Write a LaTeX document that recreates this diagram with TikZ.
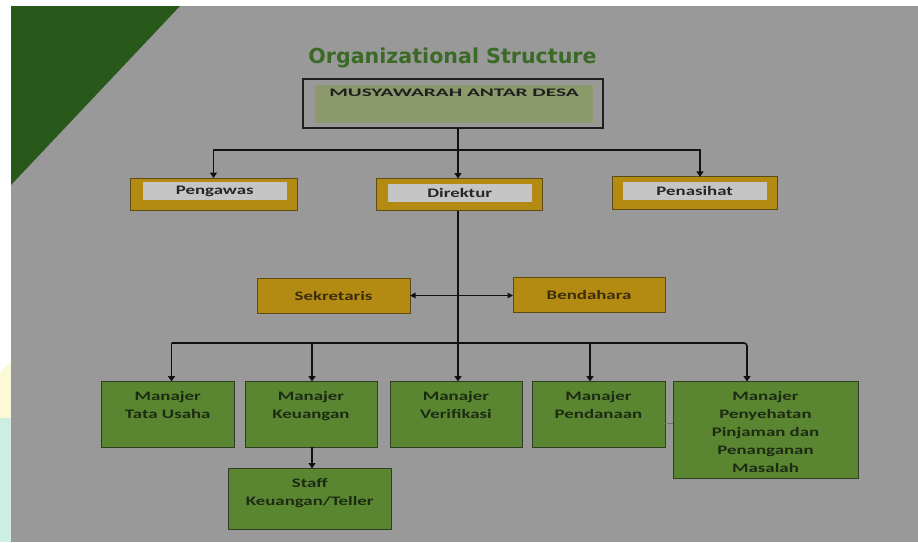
\documentclass[tikz,border=0pt]{standalone}
\usepackage{fontspec}
\usetikzlibrary{arrows.meta,positioning}
\newfontfamily\ttlfont{DejaVu Sans}
\newfontfamily\bxfont[FakeStretch=1.45]{Carlito}
\newfontfamily\musfont[FakeStretch=1.85]{Carlito}
\definecolor{bggray}{HTML}{999999}
\definecolor{tri}{HTML}{28581A}
\definecolor{ttlgreen}{HTML}{3B6A26}
\definecolor{goldfill}{HTML}{B38A12}
\definecolor{golddark}{HTML}{5E4A14}
\definecolor{innergray}{HTML}{C5C5C5}
\definecolor{goldtext}{HTML}{3A2D0A}
\definecolor{greenfill}{HTML}{5A8632}
\definecolor{greenborder}{HTML}{2F3D22}
\definecolor{greentext}{HTML}{1D2B12}
\definecolor{musinner}{HTML}{8C996A}
\definecolor{linec}{HTML}{111111}
\definecolor{wmyellow}{HTML}{FCF9D6}
\definecolor{wmcyan}{HTML}{CDEEE2}
\tikzset{
  gbox/.style={draw=golddark, fill=goldfill, line width=0.9pt, inner sep=0pt, outer sep=0pt},
  ginner/.style={fill=innergray, inner sep=0pt, outer sep=0pt, text=black!85,
    font=\bxfont\bfseries\fontsize{13}{16}\selectfont},
  sbox/.style={gbox, text=goldtext, font=\bxfont\bfseries\fontsize{13}{16}\selectfont},
  mbox/.style={draw=greenborder, fill=greenfill, line width=0.9pt, inner sep=0pt, outer sep=0pt},
  mlabel/.style={font=\bxfont\bfseries\fontsize{13}{18}\selectfont, text=greentext,
    align=center, inner sep=0pt},
  conn/.style={draw=linec, line width=1.6pt},
  arr/.style={conn, -{Triangle[width=7pt,length=5.5pt]}},
}
\begin{document}
\begin{tikzpicture}[x=1pt,y=-1pt]
% background
\useasboundingbox (0,0) rectangle (918,542);
\fill[white] (0,0) rectangle (918,542);
\fill[wmyellow] (0,372) -- (11,362) -- (11,430) -- (0,430) -- cycle;
\fill[wmcyan] (0,418) -- (11,418) -- (11,542) -- (0,542) -- cycle;
\fill[bggray] (11,6) rectangle (918,542);
\fill[tri] (11,6) -- (180,6) -- (11,185) -- cycle;

% title
\node[anchor=base, text=ttlgreen, inner sep=0pt,
  font=\ttlfont\bfseries\fontsize{20.6}{24}\selectfont] (title) at (452.5,63) {Organizational Structure};

% top box
\node[draw=black!88, line width=1.2pt, minimum width=300pt, minimum height=49pt,
  inner sep=0pt, outer sep=0pt] (mus) at (453,103.5) {};
\node[fill=musinner, minimum width=278pt, minimum height=38pt, inner sep=0pt] (musin) at (454,104) {};
\node[below=4.3pt of musin.north, inner sep=0pt, text=black!88,
  font=\musfont\bfseries\fontsize{11.5}{14}\selectfont] (mustext) {MUSYAWARAH ANTAR DESA};

% second level
\node[gbox, minimum width=167pt, minimum height=32pt] (pgw) at (213.5,194) {};
\node[ginner, minimum width=144pt, minimum height=18pt] (pgwin) at (214.7,191.2) {Pengawas};
\node[gbox, minimum width=166pt, minimum height=32pt] (dir) at (459.5,194.5) {};
\node[ginner, minimum width=144pt, minimum height=18pt] (dirin) at (459.7,192.5) {Direktur};
\node[gbox, minimum width=165pt, minimum height=33pt] (pna) at (695,193.4) {};
\node[ginner, minimum width=144pt, minimum height=18pt] (pnain) at (694.7,190.9) {Penasihat};

% staff level
\node[sbox, minimum width=153pt, minimum height=35pt] (sek) at (333.5,295.5) {Sekretaris};
\node[sbox, minimum width=152pt, minimum height=35pt] (ben) at (589,294.5) {Bendahara};

% managers
\node[mbox, minimum width=132.5pt, minimum height=65.5pt] (tu) at (167.75,414.25) {};
\node[mlabel, below=9.5pt of tu.north] (tut) {Manajer\\Tata Usaha};
\node[mbox, minimum width=132pt, minimum height=65.5pt] (ku) at (311,414.25) {};
\node[mlabel, below=9.5pt of ku.north] (kut) {Manajer\\Keuangan};
\node[mbox, minimum width=132pt, minimum height=65.5pt] (ver) at (456,414.25) {};
\node[mlabel, below=9.5pt of ver.north] (vert) {Manajer\\Verifikasi};
\node[mbox, minimum width=133pt, minimum height=65.5pt] (pdn) at (598.5,414.25) {};
\node[mlabel, below=9.5pt of pdn.north] (pdnt) {Manajer\\Pendanaan};
\node[mbox, minimum width=185pt, minimum height=97pt] (pp) at (765.5,430) {};
\node[mlabel, below=9.5pt of pp.north] (ppt) {Manajer\\Penyehatan\\Pinjaman dan\\Penanganan\\Masalah};
\node[mbox, minimum width=163.5pt, minimum height=60.5pt] (stf) at (309.75,498.75) {};
\node[mlabel, below=9.5pt of stf.north] (stft) {Staff\\Keuangan/Teller};

% junctions
\coordinate (j1) at (458,150);
\coordinate (j2) at (458,343);
\coordinate (a1) at (171.5,343);
\coordinate (a2) at (312,343);
\coordinate (a4) at (590,343);
\coordinate (a5) at (747,343);
\coordinate (p1) at (700,150);

% connectors
\draw[arr] (mus.south -| j1) -- (dir.north -| j1);
\draw[arr] (j1) -| (pgw.north);
\draw[arr] (j1) -- (p1) -- (p1 |- pna.north);
\draw[conn] (dir.south -| j2) -- (j2);
\draw[draw=linec, line width=1.1pt, {Triangle[width=5.5pt,length=5.5pt]}-{Triangle[width=5.5pt,length=5.5pt]}]
  (sek.east) -- (sek.east -| ben.west);
\draw[arr, rounded corners=3pt] (a1) -- (a5) -- (a5 |- pp.north);
\draw[arr] (a1) -- (a1 |- tu.north);
\draw[arr] (a2) -- (a2 |- ku.north);
\draw[arr] (j2) -- (j2 |- ver.north);
\draw[arr] (a4) -- (a4 |- pdn.north);
\draw[arr] (ku.south -| a2) -- (stf.north -| a2);
\draw[draw=black!55, line width=1pt] ([yshift=-8.75pt]pdn.east) -- ([yshift=-8.75pt]pdn.east -| pp.west);
\end{tikzpicture}
\end{document}
